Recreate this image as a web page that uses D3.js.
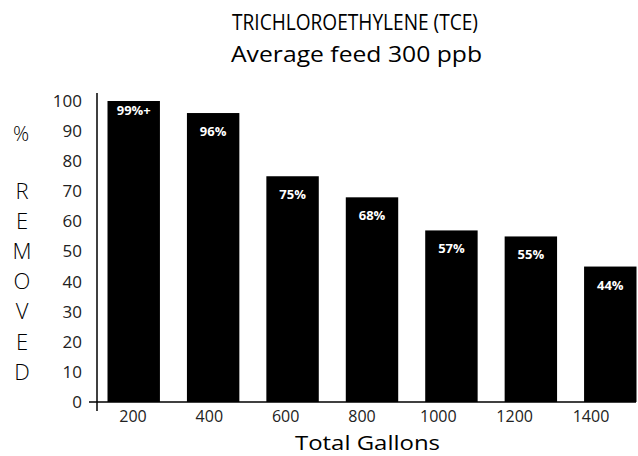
<!DOCTYPE html>
<html>
<head>
<meta charset="utf-8">
<script src="https://cdn.jsdelivr.net/npm/d3@7"></script>
<style>
  body { margin: 0; background: #fff; }
  text { font-family: "Open Sans", "Lato", sans-serif; }
</style>
</head>
<body>
<div id="chart"></div>
<script>
// ==== Data ====
const gallons = ["200", "400", "600", "800", "1000", "1200", "1400"];
const removed = [100, 96, 75, 68, 57, 55, 45];
const barLabels = ["99%+", "96%", "75%", "68%", "57%", "55%", "44%"];
const yTicks = [0, 10, 20, 30, 40, 50, 60, 70, 80, 90, 100];
const yWord = ["R", "E", "M", "O", "V", "E", "D"];

// ==== Setup ====
const width = 638, height = 456;
const svg = d3.select("#chart").append("svg")
  .attr("width", width)
  .attr("height", height);

const axisX = 97;
const y = d3.scaleLinear().domain([0, 100]).range([402, 101]);

// bars sit a bit wider apart than the printed tick labels
const x = d3.scaleBand().domain(gallons).range([94, 650]).paddingInner(0.34).paddingOuter(0.17);
const xLab = d3.scalePoint().domain(gallons).range([133, 591]);

// Title
svg.append("text")
  .attr("x", 232).attr("y", 30)
  .attr("font-size", 21)
  .attr("textLength", 246).attr("lengthAdjust", "spacingAndGlyphs")
  .text("TRICHLOROETHYLENE (TCE)");
svg.append("text")
  .attr("x", 231).attr("y", 62)
  .attr("font-size", 21)
  .attr("textLength", 251).attr("lengthAdjust", "spacingAndGlyphs")
  .text("Average feed 300 ppb");

// Bars
svg.selectAll(".bar").data(gallons).enter().append("rect")
  .attr("class", "bar")
  .attr("x", d => x(d))
  .attr("y", (d, i) => y(removed[i]))
  .attr("width", x.bandwidth())
  .attr("height", (d, i) => y(0) - y(removed[i]))
  .attr("fill", "#000");

// Values inside bars
svg.selectAll(".val").data(gallons).enter().append("text")
  .attr("class", "val")
  .attr("x", d => x(d) + x.bandwidth() / 2)
  .attr("y", (d, i) => y(removed[i]) + (i === 0 ? 14 : 23))
  .attr("text-anchor", "middle")
  .attr("font-size", 13)
  .attr("font-weight", "bold")
  .attr("fill", "#fff")
  .text((d, i) => barLabels[i]);

// Axes lines
svg.append("line")
  .attr("x1", axisX).attr("x2", axisX)
  .attr("y1", 93).attr("y2", 411)
  .attr("stroke", "#000").attr("stroke-width", 1.5);
svg.append("line")
  .attr("x1", 89).attr("x2", 636)
  .attr("y1", y(0)).attr("y2", y(0))
  .attr("stroke", "#000").attr("stroke-width", 1.5);

// Y tick labels
svg.selectAll(".ytick").data(yTicks).enter().append("text")
  .attr("class", "ytick")
  .attr("x", 82)
  .attr("y", d => y(d))
  .attr("dy", "0.35em")
  .attr("text-anchor", "end")
  .attr("font-size", 17)
  .attr("fill", "#222")
  .text(d => d);

// X tick labels
svg.selectAll(".xtick").data(gallons).enter().append("text")
  .attr("class", "xtick")
  .attr("x", d => xLab(d))
  .attr("y", 422)
  .attr("text-anchor", "middle")
  .attr("font-size", 16)
  .attr("fill", "#222")
  .text(d => d);

// X title
svg.append("text")
  .attr("x", 295).attr("y", 450)
  .attr("font-size", 20)
  .attr("textLength", 145).attr("lengthAdjust", "spacingAndGlyphs")
  .text("Total Gallons");

// Y title: stacked letters
svg.append("text")
  .attr("x", 21).attr("y", y(89))
  .attr("dy", "0.35em")
  .attr("text-anchor", "middle")
  .attr("font-size", 20)
  .attr("font-weight", 300)
  .text("%");
svg.selectAll(".yword").data(yWord).enter().append("text")
  .attr("class", "yword")
  .attr("x", 22)
  .attr("y", (d, i) => y(70 - i * 10))
  .attr("dy", "0.35em")
  .attr("text-anchor", "middle")
  .attr("font-size", 22)
  .attr("font-weight", 300)
  .text(d => d);
</script>
</body>
</html>
